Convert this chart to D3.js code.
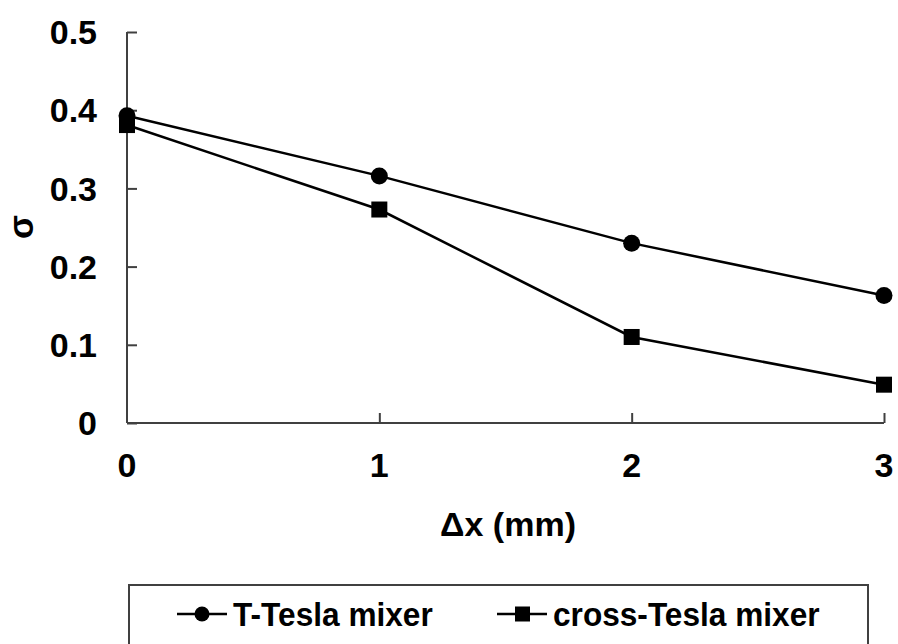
<!DOCTYPE html>
<html>
<head>
<meta charset="utf-8">
<script src="https://cdn.jsdelivr.net/npm/d3@7"></script>
<style>
  html, body { margin: 0; padding: 0; background: #fff; }
  text { font-family: "Liberation Sans", Arial, sans-serif; font-weight: bold; fill: #000; }
</style>
</head>
<body>
<svg id="chart" width="898" height="644"></svg>
<script>
// Mixing index vs. offset
const xValues = [0, 1, 2, 3];
const tTesla = [0.393, 0.316, 0.230, 0.163];
const crossTesla = [0.381, 0.273, 0.110, 0.049];
const seriesNames = ["T-Tesla mixer", "cross-Tesla mixer"];
const yTicks = [0, 0.1, 0.2, 0.3, 0.4, 0.5];
const xTicks = [0, 1, 2, 3];

const svg = d3.select("#chart");
const x = d3.scaleLinear().domain([0, 3]).range([127, 884]);
const y = d3.scaleLinear().domain([0, 0.5]).range([423, 32]);

const axisColor = "#404040";

// y axis with inward ticks
const yAxis = svg.append("g").attr("transform", `translate(${x(0)},0)`)
  .call(d3.axisRight(y).tickValues(yTicks).tickSize(10).tickFormat(""));
yAxis.select(".domain").attr("stroke", axisColor).attr("stroke-width", 2).attr("d", `M0,${y(0.5)}V${y(0)}`);
yAxis.selectAll(".tick line").attr("stroke", axisColor).attr("stroke-width", 2);

// x axis with inward ticks
const xAxis = svg.append("g").attr("transform", `translate(0,${y(0)})`)
  .call(d3.axisTop(x).tickValues(xTicks.filter(d => d !== 0)).tickSize(10).tickFormat(""));
xAxis.select(".domain").attr("stroke", axisColor).attr("stroke-width", 2).attr("d", `M${x(0)},0H${x(3)}`);
xAxis.selectAll(".tick line").attr("stroke", axisColor).attr("stroke-width", 2);

// tick labels
svg.append("g").selectAll("text").data(yTicks).join("text")
  .attr("x", 97).attr("y", d => y(d)).attr("dy", "0.36em")
  .attr("text-anchor", "end").attr("font-size", 34)
  .text(d => d === 0 ? "0" : d3.format(".1f")(d));

svg.append("g").selectAll("text").data(xTicks).join("text")
  .attr("x", d => x(d)).attr("y", 477)
  .attr("text-anchor", "middle").attr("font-size", 34)
  .text(d => d);

// axis titles
svg.append("text").attr("x", 508).attr("y", 536).attr("text-anchor", "middle")
  .attr("font-size", 34).text("Δx (mm)");
svg.append("text").attr("transform", "translate(33,227) rotate(-90)")
  .attr("text-anchor", "middle").attr("font-size", 35).text("σ");

// series lines and markers
const line = d3.line().x((d, i) => x(xValues[i])).y(d => y(d));
svg.append("path").datum(tTesla).attr("d", line)
  .attr("fill", "none").attr("stroke", "#000").attr("stroke-width", 2.5);
svg.append("path").datum(crossTesla).attr("d", line)
  .attr("fill", "none").attr("stroke", "#000").attr("stroke-width", 2.5);

svg.append("g").selectAll("circle").data(tTesla).join("circle")
  .attr("cx", (d, i) => x(xValues[i])).attr("cy", d => y(d)).attr("r", 8.5).attr("fill", "#000");
svg.append("g").selectAll("rect").data(crossTesla).join("rect")
  .attr("x", (d, i) => x(xValues[i]) - 8).attr("y", d => y(d) - 8)
  .attr("width", 16).attr("height", 16).attr("fill", "#000");

// legend
const lg = svg.append("g");
lg.append("rect").attr("x", 129).attr("y", 585).attr("width", 739).attr("height", 80)
  .attr("fill", "#fff").attr("stroke", "#404040").attr("stroke-width", 2);
const items = [
  { name: seriesNames[0], x0: 177, shape: "circle" },
  { name: seriesNames[1], x0: 497, shape: "square" }
];
items.forEach(it => {
  const cy = 614;
  lg.append("line").attr("x1", it.x0).attr("x2", it.x0 + 50).attr("y1", cy).attr("y2", cy)
    .attr("stroke", "#000").attr("stroke-width", 2.5);
  if (it.shape === "circle") {
    lg.append("circle").attr("cx", it.x0 + 25).attr("cy", cy).attr("r", 7.5).attr("fill", "#000");
  } else {
    lg.append("rect").attr("x", it.x0 + 18).attr("y", cy - 7.5).attr("width", 15).attr("height", 15).attr("fill", "#000");
  }
  lg.append("text").attr("transform", `translate(${it.x0 + 56},626) scale(0.93,1)`)
    .attr("font-size", 34).text(it.name);
});
</script>
</body>
</html>
